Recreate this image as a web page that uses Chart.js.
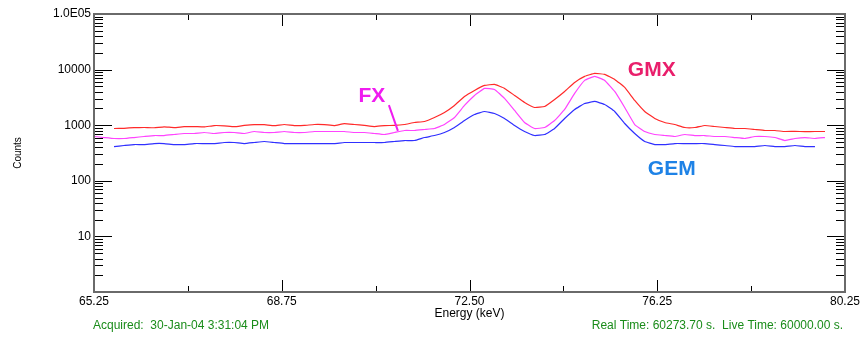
<!DOCTYPE html>
<html>
<head>
<meta charset="utf-8">
<script src="https://cdn.jsdelivr.net/npm/chart.js@4.4.1/dist/chart.umd.min.js"></script>
<style>
  html, body { margin: 0; background: #fff; }
</style>
</head>
<body>
<canvas id="spectrum" width="867" height="337"></canvas>
<script>
// energy channels (keV)
const energy = [65.25, 65.45, 65.65, 65.85, 66.05, 66.25, 66.45, 66.65, 66.85, 67.05,
  67.25, 67.45, 67.65, 67.85, 68.05, 68.25, 68.45, 68.65, 68.85, 69.05,
  69.25, 69.45, 69.65, 69.85, 70.05, 70.25, 70.45, 70.65, 70.85, 71.05,
  71.25, 71.45, 71.65, 71.85, 72.05, 72.25, 72.45, 72.65, 72.85, 73.05,
  73.25, 73.45, 73.65, 73.85, 74.05, 74.25, 74.45, 74.65, 74.85, 75.05,
  75.25, 75.45, 75.65, 75.85, 76.05, 76.25, 76.45, 76.65, 76.85, 77.05,
  77.25, 77.45, 77.65, 77.85, 78.05, 78.25, 78.45, 78.65, 78.85, 79.05,
  79.25, 79.45, 79.65, 79.85, 80.05, 80.25];

// counts per detector
const gmx = [null, null, 872, 880, 905, 910, 900, 935, 905, 940,
  945, 930, 985, 975, 940, 990, 1025, 1020, 980, 1030,
  985, 990, 1030, 1025, 985, 1070, 1030, 990, 945, 985,
  990, 1030, 1118, 1166, 1376, 1694, 2265, 3289, 4220, 5192,
  5412, 4584, 3429, 2564, 2084, 2172, 2904, 4048, 5880, 7543,
  8543, 8194, 6660, 4778, 2786, 1765, 1320, 1118, 1029, 909,
  909, 988, 947, 909, 872, 872, 837, 803, 803, 770,
  775, 765, 770, 770, null, null];

const fx = [626, 600, 576, 576, 600, 626, 652, 652, 680, 709,
  709, 739, 709, 739, 739, 709, 770, 739, 739, 770,
  739, 739, 770, 770, 770, 770, 739, 739, 709, 680,
  739, 803, 803, 837, 872, 1029, 1376, 2265, 3429, 4584,
  4398, 3027, 1840, 1118, 872, 909, 1215, 1918, 3726, 6390,
  7543, 6390, 4048, 2084, 1029, 770, 680, 652, 626, 680,
  652, 652, 626, 626, 600, 576, 626, 626, 600, 530,
  576, 600, 576, 600, null, null];

const gem = [null, null, 413, 431, 449, 449, 468, 468, 449, 449,
  468, 468, 468, 488, 488, 468, 488, 509, 488, 468,
  468, 468, 468, 468, 468, 488, 488, 488, 488, 488,
  509, 530, 530, 600, 652, 739, 909, 1215, 1559, 1765,
  1625, 1320, 988, 770, 652, 680, 872, 1320, 1918, 2460,
  2673, 2360, 1765, 1073, 709, 509, 449, 449, 468, 468,
  468, 468, 449, 431, 413, 413, 413, 431, 413, 413,
  431, 413, 413, null, null, null];

// axis ticks
const xTickValues = [65.25, 69.0, 72.75, 76.5, 80.25];
const xTickLabels = ["65.25", "68.75", "72.50", "76.25", "80.25"];
const yTickValues = [1, 10, 100, 1000, 10000, 100000];
const yTickLabels = ["", "10", "100", "1000", "10000", "1.0E05"];

const FONT = '"Liberation Sans", Arial, sans-serif';

const toPoints = arr => energy.map((e, i) => ({ x: e, y: arr[i] }));

// frame, inward ticks, peak labels and footer
const decorations = {
  id: "decorations",
  afterDraw(chart) {
    const { ctx, chartArea: a, scales: { x, y } } = chart;
    ctx.save();

    ctx.strokeStyle = "#000";
    ctx.lineWidth = 1;
    ctx.beginPath();
    for (let d = 1; d < 100000; d *= 10) {
      for (let m = 1; m < 10; m++) {
        if (d === 1 && m === 1) continue;
        const py = Math.round(y.getPixelForValue(d * m)) + 0.5;
        const len = m === 1 ? 18 : 9;
        ctx.moveTo(a.left, py); ctx.lineTo(a.left + len, py);
        ctx.moveTo(a.right, py); ctx.lineTo(a.right - len, py);
      }
    }
    xTickValues.forEach((v, i) => {
      const px = Math.round(x.getPixelForValue(v)) + 0.5;
      if (i > 0 && i < xTickValues.length - 1) {
        ctx.moveTo(px, a.bottom); ctx.lineTo(px, a.bottom - 12);
        ctx.moveTo(px, a.top); ctx.lineTo(px, a.top + 12);
      }
      if (i > 0) {
        const mx = Math.round(x.getPixelForValue((v + xTickValues[i - 1]) / 2)) + 0.5;
        ctx.moveTo(mx, a.bottom); ctx.lineTo(mx, a.bottom - 6);
        ctx.moveTo(mx, a.top); ctx.lineTo(mx, a.top + 6);
      }
    });
    ctx.stroke();

    ctx.strokeStyle = "#6a6a6a";
    ctx.lineWidth = 2;
    ctx.strokeRect(a.left, a.top, a.right - a.left, a.bottom - a.top);

    // peak labels
    ctx.font = "bold 21px " + FONT;
    ctx.textAlign = "center";
    ctx.textBaseline = "middle";
    ctx.fillStyle = "#e91e6b";
    ctx.fillText("GMX", x.getPixelForValue(76.39), y.getPixelForValue(9680));
    ctx.fillStyle = "#f01cf0";
    ctx.fillText("FX", x.getPixelForValue(70.80), y.getPixelForValue(3290));
    ctx.fillStyle = "#1e82e6";
    ctx.fillText("GEM", x.getPixelForValue(76.79), y.getPixelForValue(159));

    ctx.strokeStyle = "#f01cf0";
    ctx.lineWidth = 2;
    ctx.beginPath();
    ctx.moveTo(x.getPixelForValue(71.14), y.getPixelForValue(2300));
    ctx.lineTo(x.getPixelForValue(71.32), y.getPixelForValue(790));
    ctx.stroke();

    // footer
    ctx.font = "12px " + FONT;
    ctx.fillStyle = "#1a8c1a";
    ctx.textAlign = "left";
    ctx.fillText("Acquired:  30-Jan-04 3:31:04 PM", 93, 326);
    ctx.textAlign = "right";
    ctx.fillText("Real Time: 60273.70 s.  Live Time: 60000.00 s.", 843, 326);

    ctx.restore();
  }
};

const series = [
  { label: "GMX", data: gmx, color: "#ff2a2a" },
  { label: "FX", data: fx, color: "#ff44ff" },
  { label: "GEM", data: gem, color: "#3030ff" }
];

new Chart(document.getElementById("spectrum"), {
  type: "line",
  data: {
    datasets: series.map(s => ({
      label: s.label,
      data: toPoints(s.data),
      borderColor: s.color,
      borderWidth: 1.2,
      pointRadius: 0,
      tension: 0.1,
      fill: false
    }))
  },
  options: {
    responsive: false,
    animation: false,
    events: [],
    layout: { padding: { left: 0, top: 14, right: 22, bottom: 0 } },
    plugins: { legend: { display: false }, tooltip: { enabled: false } },
    scales: {
      x: {
        type: "linear",
        min: 65.25,
        max: 80.25,
        afterBuildTicks: scale => { scale.ticks = xTickValues.map(v => ({ value: v })); },
        afterFit: scale => { scale.height = 45; },
        grid: { display: false, drawTicks: false },
        border: { display: false },
        ticks: {
          autoSkip: false,
          maxRotation: 0,
          padding: 2,
          color: "#000",
          font: { family: FONT, size: 12 },
          callback: (v, i) => xTickLabels[i]
        },
        title: {
          display: true,
          text: "Energy (keV)",
          color: "#000",
          font: { family: FONT, size: 12 },
          padding: { top: 0, bottom: 16 }
        }
      },
      y: {
        type: "logarithmic",
        min: 1,
        max: 100000,
        afterBuildTicks: scale => { scale.ticks = yTickValues.map(v => ({ value: v })); },
        afterFit: scale => { scale.width = 94; },
        grid: { display: false, drawTicks: false },
        border: { display: false },
        ticks: {
          autoSkip: false,
          padding: 3,
          color: "#000",
          font: { family: FONT, size: 12 },
          callback: (v, i) => yTickLabels[i]
        },
        title: {
          display: true,
          text: "Counts",
          color: "#000",
          font: { family: FONT, size: 10 },
          padding: { top: 12, bottom: 0 }
        }
      }
    }
  },
  plugins: [decorations]
});
</script>
</body>
</html>
